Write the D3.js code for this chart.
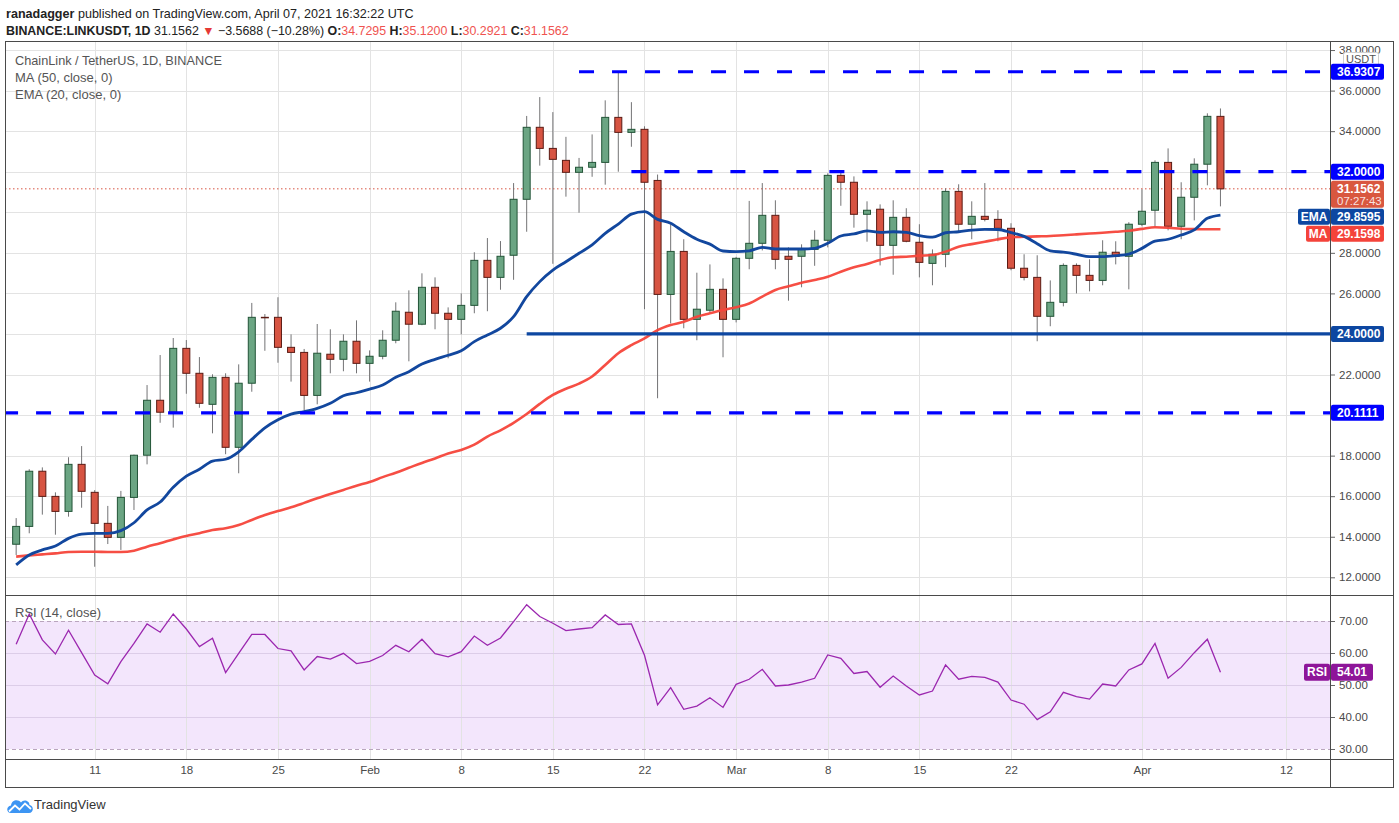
<!DOCTYPE html>
<html>
<head>
<meta charset="utf-8">
<script src="https://cdn.jsdelivr.net/npm/d3@7"></script>
<style>
  body { margin: 0; background: #fff; }
  svg { display: block; font-family: "Liberation Sans", Arial, sans-serif; }
</style>
</head>
<body>
<svg id="chart" width="1399" height="823"></svg>
<script>
'use strict';
// daily candles, Jan 5 .. Apr 7 2021
const days = d3.utcDay.range(new Date(Date.UTC(2021, 0, 5)), new Date(Date.UTC(2021, 3, 8)));

const open = [13.63, 14.51, 17.23, 15.99, 15.25, 17.57, 16.19, 14.66, 13.97, 15.94,
  18.02, 20.73, 20.14, 23.29, 22.06, 20.53, 21.86, 18.41, 21.57, 24.82,
  24.82, 23.34, 23.09, 20.97, 23.00, 22.75, 23.64, 22.55, 22.90, 23.69,
  25.07, 24.48, 26.30, 25.02, 24.72, 25.41, 27.63, 26.79, 27.88, 30.64,
  34.19, 33.15, 32.56, 31.97, 32.22, 32.46, 34.68, 33.94, 34.09, 31.57,
  25.95, 28.07, 24.72, 25.17, 26.20, 24.72, 27.73, 28.47, 29.85, 27.83,
  27.83, 28.17, 28.62, 31.82, 31.48, 29.90, 30.15, 28.37, 29.75, 28.52,
  27.48, 27.93, 31.03, 29.41, 29.80, 29.65, 29.21, 27.24, 26.79, 24.87,
  25.56, 27.38, 26.89, 26.64, 28.03, 27.83, 29.41, 30.10, 32.46, 29.31,
  30.74, 32.37, 34.7295];
const high = [14.92, 17.33, 17.42, 16.19, 17.92, 18.47, 16.30, 15.52, 16.26, 18.05,
  21.48, 22.96, 23.80, 23.70, 22.86, 22.01, 22.06, 22.50, 25.53, 24.98,
  25.81, 23.98, 23.26, 24.49, 24.23, 23.98, 24.67, 23.19, 24.18, 25.56,
  26.15, 26.99, 26.79, 25.31, 26.00, 28.03, 28.73, 28.58, 31.44, 34.75,
  35.68, 34.94, 33.72, 32.68, 33.84, 35.52, 36.93, 35.43, 34.24, 31.86,
  29.41, 28.67, 27.02, 27.43, 26.74, 27.80, 30.56, 31.44, 30.59, 28.27,
  28.42, 29.11, 31.92, 31.95, 31.77, 30.54, 30.39, 30.59, 30.20, 29.41,
  28.17, 31.18, 31.38, 30.54, 31.44, 30.10, 29.46, 27.93, 27.88, 26.64,
  27.48, 27.48, 27.68, 28.62, 28.57, 29.51, 31.13, 32.56, 33.15, 31.48,
  32.66, 34.88, 35.12];
const low = [13.10, 14.17, 15.09, 14.10, 14.99, 15.43, 12.52, 13.64, 13.35, 15.32,
  17.57, 19.62, 19.38, 21.05, 20.36, 19.10, 18.07, 17.13, 21.15, 23.17,
  22.58, 21.65, 20.25, 20.53, 22.06, 22.16, 22.06, 21.65, 22.75, 23.54,
  22.65, 24.43, 24.23, 22.80, 23.98, 25.02, 25.12, 26.18, 26.67, 29.04,
  32.30, 27.46, 30.77, 29.98, 31.75, 31.36, 32.00, 33.23, 25.22, 20.83,
  24.52, 24.28, 23.69, 25.08, 22.85, 24.57, 27.19, 28.12, 27.19, 25.64,
  26.30, 27.36, 28.27, 30.32, 29.24, 28.55, 27.38, 26.92, 28.52, 26.79,
  26.40, 27.29, 29.01, 28.67, 29.55, 28.57, 27.14, 26.64, 23.64, 24.38,
  25.36, 26.00, 26.10, 26.40, 27.43, 26.20, 29.31, 29.31, 29.11, 28.67,
  29.60, 31.33, 30.2921];
const close = [14.51, 17.23, 15.99, 15.25, 17.57, 16.24, 14.66, 13.97, 15.94, 18.02,
  20.73, 20.14, 23.29, 22.06, 20.58, 21.86, 18.41, 21.57, 24.82, 24.80,
  23.34, 23.09, 20.97, 23.05, 22.75, 23.64, 22.55, 22.90, 23.69, 25.12,
  24.48, 26.30, 25.02, 24.72, 25.41, 27.63, 26.79, 27.83, 30.64, 34.19,
  33.15, 32.61, 31.97, 32.22, 32.46, 34.68, 33.94, 34.09, 31.48, 25.95,
  28.07, 24.72, 25.22, 26.20, 24.72, 27.73, 28.47, 29.85, 27.68, 27.68,
  28.17, 28.62, 31.82, 31.48, 29.90, 30.10, 28.37, 29.75, 28.57, 27.53,
  27.93, 31.03, 29.41, 29.80, 29.65, 29.21, 27.24, 26.79, 24.87, 25.56,
  27.38, 26.89, 26.64, 28.03, 27.83, 29.41, 30.05, 32.46, 29.31, 30.74,
  32.37, 34.73, 31.1562];

// indicator values
const ma50 = [13.02, 13.08, 13.13, 13.18, 13.25, 13.26, 13.26, 13.25, 13.25, 13.31,
  13.51, 13.68, 13.87, 14.04, 14.17, 14.33, 14.42, 14.58, 14.83, 15.07,
  15.27, 15.45, 15.67, 15.90, 16.11, 16.31, 16.52, 16.70, 16.94, 17.16,
  17.40, 17.64, 17.86, 18.11, 18.28, 18.54, 18.94, 19.25, 19.62, 20.05,
  20.55, 20.99, 21.30, 21.55, 21.90, 22.47, 23.05, 23.45, 23.78, 24.19,
  24.44, 24.60, 24.85, 25.02, 25.18, 25.32, 25.50, 25.84, 26.17, 26.35,
  26.52, 26.66, 26.82, 27.07, 27.29, 27.45, 27.65, 27.78, 27.81, 27.86,
  27.89, 28.06, 28.30, 28.43, 28.55, 28.67, 28.77, 28.79, 28.81, 28.83,
  28.87, 28.91, 28.95, 28.99, 29.04, 29.09, 29.18, 29.26, 29.24, 29.19,
  29.17, 29.16, 29.1598];
const ema20 = [12.61, 13.10, 13.35, 13.54, 13.92, 14.13, 14.17, 14.17, 14.30, 14.69,
  15.32, 15.71, 16.44, 16.99, 17.33, 17.73, 17.82, 18.19, 18.80, 19.37,
  19.77, 20.05, 20.17, 20.33, 20.58, 20.95, 21.10, 21.28, 21.48, 21.86,
  22.14, 22.52, 22.75, 22.95, 23.17, 23.62, 23.95, 24.28, 24.85, 25.84,
  26.58, 27.15, 27.56, 27.98, 28.39, 28.96, 29.42, 29.91, 30.03, 29.65,
  29.46, 29.04, 28.67, 28.43, 28.09, 28.06, 28.10, 28.27, 28.19, 28.19,
  28.19, 28.22, 28.47, 28.83, 28.93, 29.08, 29.01, 29.04, 29.01, 28.85,
  28.77, 28.99, 29.04, 29.12, 29.16, 29.15, 29.00, 28.81, 28.45, 28.10,
  28.03, 27.93, 27.81, 27.81, 27.86, 27.94, 28.22, 28.58, 28.67, 28.88,
  29.13, 29.70, 29.8595];
const rsi = [62.7, 72.2, 64.1, 59.7, 67.1, 60.1, 53.1, 50.4, 57.3, 63.0,
  69.1, 66.5, 72.2, 67.5, 62.0, 64.6, 53.9, 59.9, 65.8, 65.8,
  61.4, 60.7, 54.7, 58.9, 58.1, 59.9, 56.7, 57.4, 59.2, 62.4,
  60.4, 64.3, 59.8, 58.8, 60.4, 65.3, 62.4, 64.7, 69.8, 75.1,
  71.4, 69.3, 67.0, 67.5, 67.9, 71.9, 68.9, 69.1, 59.3, 43.8,
  49.2, 42.4, 43.4, 46.0, 43.0, 50.2, 51.8, 54.9, 49.7, 50.0,
  50.9, 52.1, 59.4, 58.3, 53.6, 54.2, 49.3, 52.8, 49.7, 46.9,
  48.1, 56.3, 51.8, 52.7, 52.4, 50.9, 45.3, 44.0, 39.2, 41.6,
  47.7, 46.4, 45.6, 50.3, 49.7, 54.7, 56.6, 63.0, 52.1, 55.5,
  60.1, 64.3, 54.01];

// horizontal drawings: price and the day each one starts
const levelPrices = [36.9307, 32.0, 24.0, 20.1111];
const levelStarts = ['2021-02-17', '2021-02-21', '2021-02-13', '2021-01-04'];

const priceTicks = d3.range(12, 40, 2);
const rsiTicks = [30, 40, 50, 60, 70];
const dateTicks = ['2021-01-11', '2021-01-18', '2021-01-25', '2021-02-01', '2021-02-08', '2021-02-15',
  '2021-02-22', '2021-03-01', '2021-03-08', '2021-03-15', '2021-03-22', '2021-04-01', '2021-04-12'];
const monthNames = ['Jan', 'Feb', 'Mar', 'Apr'];

const svg = d3.select('#chart');
const L = 5, R = 1330, OUT_R = 1393, TOP = 41, SPLIT = 595, RSI_B = 759, BOT = 787;

const x = d3.scaleUtc()
  .domain([new Date(Date.UTC(2021, 0, 11)), new Date(Date.UTC(2021, 3, 12))])
  .range([94.7, 1285.9]);
const y = d3.scaleLinear().domain([12, 36]).range([577.3, 90.6]);
const yr = d3.scaleLinear().domain([30, 70]).range([749, 621]);
const parse = d3.utcParse('%Y-%m-%d');
const tickDates = dateTicks.map(parse);

const bars = days.map((d, i) => ({ d, o: open[i], h: high[i], l: low[i], c: close[i] }));

// shrink a text until it takes the width seen in the reference
function fitWidth(sel, w) {
  const n = sel.node();
  const fs = +sel.attr('font-size');
  const len = n.getComputedTextLength();
  if (len > w) sel.attr('font-size', (fs * w / len).toFixed(2));
}

svg.append('rect').attr('width', 1399).attr('height', 823).attr('fill', '#fff');

// header
const head1 = svg.append('text').attr('x', 6).attr('y', 18).attr('font-size', 13).attr('fill', '#222');
head1.append('tspan').attr('font-weight', 'bold').text('ranadagger');
head1.append('tspan').text(' published on TradingView.com, April 07, 2021 16:32:22 UTC');
fitWidth(head1, 408);

const red = '#ef5350';
const head2 = svg.append('text').attr('x', 6).attr('y', 35).attr('font-size', 13).attr('fill', '#222');
head2.append('tspan').attr('font-weight', 'bold').text('BINANCE:LINKUSDT, 1D');
head2.append('tspan').text(' 31.1562 ');
head2.append('tspan').attr('fill', '#e53935').text('▼');
head2.append('tspan').text(' \u22123.5688 (\u221210.28%) ');
[['O:', '34.7295'], [' H:', '35.1200'], [' L:', '30.2921'], [' C:', '31.1562']].forEach(([k, v]) => {
  head2.append('tspan').attr('font-weight', 'bold').attr('fill', '#222').text(k);
  head2.append('tspan').attr('fill', red).text(v);
});
fitWidth(head2, 563);

// clip for the price pane
svg.append('clipPath').attr('id', 'pp').append('rect')
  .attr('x', L).attr('y', TOP).attr('width', R - L).attr('height', SPLIT - TOP);

// rsi band
svg.append('rect').attr('x', L).attr('y', yr(70)).attr('width', R - L).attr('height', yr(30) - yr(70))
  .attr('fill', '#f3e6fc');

// grid
const grid = svg.append('g');
grid.selectAll('.vg').data(tickDates).enter().append('line')
  .attr('x1', d => Math.round(x(d)) + 0.5).attr('x2', d => Math.round(x(d)) + 0.5)
  .attr('y1', TOP).attr('y2', RSI_B).attr('stroke', '#e3e3e3');
grid.selectAll('.hg').data(priceTicks).enter().append('line')
  .attr('x1', L).attr('x2', R)
  .attr('y1', d => Math.round(y(d)) + 0.5).attr('y2', d => Math.round(y(d)) + 0.5)
  .attr('stroke', '#e3e3e3');
grid.selectAll('.rg').data([40, 50, 60]).enter().append('line')
  .attr('x1', L).attr('x2', R)
  .attr('y1', d => Math.round(yr(d)) + 0.5).attr('y2', d => Math.round(yr(d)) + 0.5)
  .attr('stroke', '#dccde8');
grid.selectAll('.rb').data([30, 70]).enter().append('line')
  .attr('x1', L).attr('x2', R)
  .attr('y1', d => Math.round(yr(d)) + 0.5).attr('y2', d => Math.round(yr(d)) + 0.5)
  .attr('stroke', '#b9a5bd').attr('stroke-dasharray', '4,3');

const pane = svg.append('g').attr('clip-path', 'url(#pp)');

// last price dotted line
pane.append('line').attr('x1', L).attr('x2', R)
  .attr('y1', y(close[close.length - 1])).attr('y2', y(close[close.length - 1]))
  .attr('stroke', '#d75442').attr('stroke-dasharray', '1.5,2.5');

// candles
const candle = pane.append('g').selectAll('g').data(bars).enter().append('g');
candle.append('line')
  .attr('x1', d => x(d.d)).attr('x2', d => x(d.d))
  .attr('y1', d => y(d.h)).attr('y2', d => y(d.l))
  .attr('stroke', '#737375');
candle.append('rect')
  .attr('x', d => x(d.d) - 3.5).attr('width', 7)
  .attr('y', d => y(Math.max(d.o, d.c)))
  .attr('height', d => Math.max(0.5, Math.abs(y(d.o) - y(d.c))))
  .attr('fill', d => d.c >= d.o ? '#6ba583' : '#d75442')
  .attr('stroke', d => d.c >= d.o ? '#225437' : '#5b1a13');

// moving averages
const maLine = d3.line().curve(d3.curveMonotoneX).x((v, i) => x(days[i])).y(v => y(v));
pane.append('path').attr('d', maLine(ma50)).attr('fill', 'none')
  .attr('stroke', '#f6453a').attr('stroke-width', 2.6).attr('stroke-opacity', 0.95);
pane.append('path').attr('d', maLine(ema20)).attr('fill', 'none')
  .attr('stroke', '#12479e').attr('stroke-width', 2.8);

// level lines
const levels = levelPrices.map((p, i) => ({ p, start: parse(levelStarts[i]) }));
pane.selectAll('.lvl').data(levels).enter().append('line')
  .attr('x1', d => x(d.start)).attr('x2', R)
  .attr('y1', d => y(d.p)).attr('y2', d => y(d.p))
  .attr('stroke', d => d.p === 24 ? '#0d47a1' : '#0000ff')
  .attr('stroke-width', 3.2)
  .attr('stroke-dasharray', d => d.p === 24 ? null : '15,18');

// pane legends
const legend = svg.append('g').attr('font-size', 13).attr('fill', '#555');
fitWidth(legend.append('text').attr('x', 15).attr('y', 65).attr('font-size', 13)
  .text('ChainLink / TetherUS, 1D, BINANCE'), 207);
legend.append('text').attr('x', 15).attr('y', 82).text('MA (50, close, 0)');
legend.append('text').attr('x', 15).attr('y', 99).text('EMA (20, close, 0)');
legend.append('text').attr('x', 15).attr('y', 617).text('RSI (14, close)');

// rsi line
const rsiLine = d3.line().x((v, i) => x(days[i])).y(v => yr(v));
svg.append('path').attr('d', rsiLine(rsi)).attr('fill', 'none')
  .attr('stroke', '#9b27af').attr('stroke-width', 1.3);

// right axis tags, stacked so they never overlap
const tags = [
  { v: levelPrices[0], bg: '#0000ff', text: '36.9307' },
  { v: levelPrices[1], bg: '#0000ff', text: '32.0000' },
  { v: close[close.length - 1], bg: '#d9573f', text: '31.1562', sub: '07:27:43' },
  { v: ema20[ema20.length - 1], bg: '#0d47a1', text: '29.8595', name: 'EMA' },
  { v: ma50[ma50.length - 1], bg: '#f4433a', text: '29.1598', name: 'MA' },
  { v: levelPrices[2], bg: '#0d47a1', text: '24.0000' },
  { v: levelPrices[3], bg: '#0000ff', text: '20.1111' }
];
let prevBottom = -Infinity;
tags.forEach(t => {
  t.h = t.sub ? 27 : 16;
  t.top = Math.max(y(t.v) - 8, prevBottom + 1);
  prevBottom = t.top + t.h;
});

// axes (tick labels hidden behind a tag are dropped, as on the reference)
const hidden = v => tags.some(t => y(v) > t.top - 5 && y(v) < t.top + t.h + 5);
const priceAxis = svg.append('g').attr('transform', `translate(${R},0)`)
  .call(d3.axisRight(y).tickValues(priceTicks.filter(v => !hidden(v)))
    .tickFormat(d3.format('.4f')).tickSize(5).tickPadding(4));
const rsiAxis = svg.append('g').attr('transform', `translate(${R},0)`)
  .call(d3.axisRight(yr).tickValues(rsiTicks).tickFormat(d3.format('.2f')).tickSize(5).tickPadding(4));
const timeAxis = svg.append('g').attr('transform', `translate(0,${RSI_B})`)
  .call(d3.axisBottom(x).tickValues(tickDates).tickSize(0).tickPadding(7)
    .tickFormat(d => d.getUTCDate() === 1 ? monthNames[d.getUTCMonth()] : d.getUTCDate()));
[priceAxis, rsiAxis, timeAxis].forEach(a => {
  a.select('.domain').remove();
  a.selectAll('text').attr('font-size', 11.5).attr('fill', '#4a4a4a')
    .attr('font-family', '"Liberation Sans", Arial, sans-serif');
  a.selectAll('line').attr('stroke', '#666');
});

// frame
const frame = svg.append('g').attr('stroke', '#4a4a4a').attr('fill', 'none');
frame.append('rect').attr('x', L + 0.5).attr('y', TOP + 0.5).attr('width', OUT_R - L).attr('height', BOT - TOP);
frame.append('line').attr('x1', L).attr('x2', OUT_R).attr('y1', SPLIT + 0.5).attr('y2', SPLIT + 0.5);
frame.append('line').attr('x1', L).attr('x2', OUT_R).attr('y1', RSI_B + 0.5).attr('y2', RSI_B + 0.5);
frame.append('line').attr('x1', R + 0.5).attr('x2', R + 0.5).attr('y1', TOP).attr('y2', BOT);

// USDT box
const cur = svg.append('g');
cur.append('rect').attr('x', 1343.5).attr('y', 52.5).attr('width', 35).attr('height', 14).attr('rx', 2)
  .attr('fill', '#fff').attr('stroke', '#cfcfcf');
cur.append('text').attr('x', 1361).attr('y', 63).attr('text-anchor', 'middle')
  .attr('font-size', 11).attr('fill', '#555').text('USDT');

tags.forEach(t => {
  const g = svg.append('g');
  g.append('rect').attr('x', R + 1).attr('y', t.top).attr('width', 53).attr('height', t.h).attr('rx', 2)
    .attr('fill', t.bg);
  g.append('text').attr('x', R + 7).attr('y', t.top + 12).attr('font-size', 12).attr('font-weight', 'bold')
    .attr('fill', '#fff').text(t.text);
  if (t.sub) {
    g.append('text').attr('x', R + 7).attr('y', t.top + 24).attr('font-size', 11.5)
      .attr('fill', '#fff').attr('fill-opacity', 0.85).text(t.sub);
  }
  if (t.name) {
    const w = t.name.length * 8 + 8;
    g.append('rect').attr('x', R - w).attr('y', t.top).attr('width', w).attr('height', t.h).attr('rx', 2)
      .attr('fill', t.bg);
    g.append('text').attr('x', R - w / 2).attr('y', t.top + 12).attr('text-anchor', 'middle')
      .attr('font-size', 12).attr('font-weight', 'bold').attr('fill', '#fff').text(t.name);
  }
});

// rsi tag
{
  const v = rsi[rsi.length - 1];
  const top = yr(v) - 8.5;
  const g = svg.append('g');
  g.append('rect').attr('x', R - 26).attr('y', top).attr('width', 26).attr('height', 17).attr('rx', 2).attr('fill', '#8e1599');
  g.append('rect').attr('x', R + 1).attr('y', top).attr('width', 42).attr('height', 17).attr('rx', 2).attr('fill', '#8e1599');
  g.append('text').attr('x', R - 13).attr('y', top + 12.5).attr('text-anchor', 'middle').attr('font-size', 12)
    .attr('font-weight', 'bold').attr('fill', '#fff').text('RSI');
  g.append('text').attr('x', R + 7).attr('y', top + 12.5).attr('font-size', 12)
    .attr('font-weight', 'bold').attr('fill', '#fff').text(d3.format('.2f')(v));
}

// footer logo
const logo = svg.append('g').attr('transform', 'translate(7,796)');
logo.append('path')
  .attr('d', 'M4,17 C-1,17 -1,10 4,9.5 C4.5,4 11,2.5 14,6.5 C16,3 22.5,4 22.5,9 C27,9.5 27,17 22,17 Z')
  .attr('fill', '#3d95f3');
logo.append('polyline').attr('points', '2,15.5 8,9.5 12.5,13.5 18,7.5 24,13')
  .attr('fill', 'none').attr('stroke', '#fff').attr('stroke-width', 1.8);
svg.append('text').attr('x', 34).attr('y', 809).attr('font-size', 13).attr('fill', '#333').text('TradingView');
</script>
</body>
</html>
